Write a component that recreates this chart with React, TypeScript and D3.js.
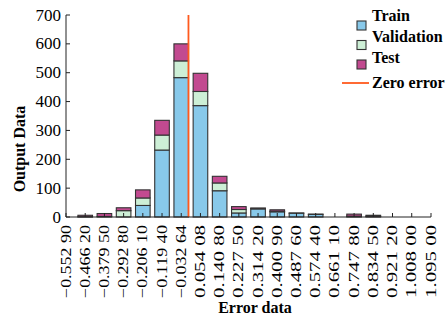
import React from 'react';
import * as d3 from 'd3';

// bin centres of the error histogram
const binCenters = [
  -0.5529, -0.4662, -0.3795, -0.2928, -0.2061, -0.1194, -0.03264, 0.05408, 0.1408, 0.2275,
  0.3142, 0.4009, 0.4876, 0.5744, 0.6611, 0.7478, 0.8345, 0.9212, 1.008, 1.095,
];
const binLabels = [
  '\u22120.552 90', '\u22120.466 20', '\u22120.379 50', '\u22120.292 80', '\u22120.206 10',
  '\u22120.119 40', '\u22120.032 64', '0.054 08', '0.140 80', '0.227 50',
  '0.314 20', '0.400 90', '0.487 60', '0.574 40', '0.661 10',
  '0.747 80', '0.834 50', '0.921 20', '1.008 00', '1.095 00',
];
const trainCounts = [0, 0, 0, 0, 40, 232, 483, 386, 91, 14, 28, 18, 13, 9, 0, 2, 2, 0, 0, 0];
const validationCounts = [0, 1, 2, 22, 26, 52, 58, 49, 27, 12, 2, 2, 1, 1, 0, 1, 1, 0, 0, 0];
const testCounts = [0, 5, 10, 10, 28, 51, 59, 63, 23, 10, 1, 5, 0, 0, 0, 7, 3, 0, 0, 0];
const yTicks = [0, 100, 200, 300, 400, 500, 600, 700];

const seriesNames = ['Train', 'Validation', 'Test'];
const colors = ['#88c9ea', '#cdefd6', '#c24a90'];
const zeroColor = '#ff5a1e';

const W = 448;
const H = 320;
const x0 = 66;
const x1 = 431;
const yTop = 15;
const yBottom = 217;

export default function App() {
  const x = d3.scaleLinear().domain([binCenters[0], binCenters[binCenters.length - 1]]).range([x0, x1]);
  const y = d3.scaleLinear().domain([0, 700]).range([yBottom, yTop]);
  const step = x(binCenters[1]) - x(binCenters[0]);
  const barW = step * 0.76;

  const rows = binCenters.map((c, i) => ({
    c,
    Train: trainCounts[i],
    Validation: validationCounts[i],
    Test: testCounts[i],
  }));
  const stacked = d3.stack<any>().keys(seriesNames)(rows);

  const serif = '"Liberation Serif", "Times New Roman", serif';

  return (
    <svg width={W} height={H} style={{ position: 'absolute', left: 0, top: 0, background: '#fff' }}>
      {/* bars */}
      {stacked.map((layer, li) => (
        <g key={layer.key}>
          {layer.map((d, i) => {
            const h = y(d[0]) - y(d[1]);
            if (h <= 0) return null;
            return (
              <rect
                key={i}
                x={x(binCenters[i]) - barW / 2}
                y={y(d[1])}
                width={barW}
                height={h}
                fill={colors[li]}
                stroke="#333"
                strokeWidth={1.1}
              />
            );
          })}
        </g>
      ))}

      {/* zero error line */}
      <line x1={x(0)} x2={x(0)} y1={y(700)} y2={y(0)} stroke={zeroColor} strokeWidth={1.8} />

      {/* axes */}
      <line x1={x0} x2={x0} y1={yTop} y2={yBottom} stroke="#222" strokeWidth={1} />
      <line x1={x0} x2={x1} y1={yBottom} y2={yBottom} stroke="#222" strokeWidth={1} />
      {yTicks.map((t) => (
        <g key={t}>
          <line x1={x0} x2={x0 + 4} y1={y(t)} y2={y(t)} stroke="#222" />
          <text
            x={x0 - 5}
            y={y(t)}
            textAnchor="end"
            dominantBaseline="central"
            fontFamily={serif}
            fontSize={17}
          >
            {t}
          </text>
        </g>
      ))}
      {binCenters.map((c, i) => (
        <g key={i}>
          <line x1={x(c)} x2={x(c)} y1={yBottom} y2={yBottom - 4} stroke="#222" />
          <text
            transform={`translate(${x(c)},${yBottom + 8}) rotate(-90)`}
            textAnchor="end"
            dominantBaseline="central"
            fontFamily={serif}
            fontSize={14}
            textLength={73}
            lengthAdjust="spacingAndGlyphs"
          >
            {binLabels[i]}
          </text>
        </g>
      ))}

      {/* axis titles */}
      <text
        transform={`translate(25,149) rotate(-90)`}
        textAnchor="middle"
        fontFamily={serif}
        fontWeight="bold"
        fontSize={16}
      >
        Output Data
      </text>
      <text x={255} y={313} textAnchor="middle" fontFamily={serif} fontWeight="bold" fontSize={16}>
        Error data
      </text>

      {/* legend */}
      {seriesNames.map((name, i) => (
        <g key={name}>
          <rect x={357} y={21 + i * 19.5} width={9} height={9} fill={colors[i]} stroke="#333" strokeWidth={1.1} />
          <text x={372} y={21 + i * 21} fontFamily={serif} fontWeight="bold" fontSize={16}>
            {name}
          </text>
        </g>
      ))}
      <line x1={342} x2={369} y1={83} y2={83} stroke={zeroColor} strokeWidth={1.8} />
      <text x={372} y={88} fontFamily={serif} fontWeight="bold" fontSize={16}>
        Zero error
      </text>
    </svg>
  );
}
